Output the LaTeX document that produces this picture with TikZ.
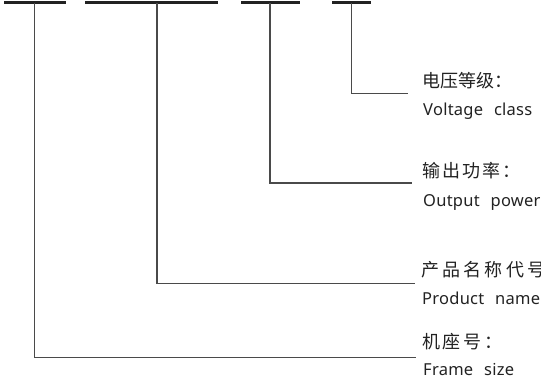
\documentclass[tikz,border=0pt]{standalone}
\usepackage{fontspec}
\newfontfamily\cjk{Noto Sans CJK SC}
\newfontfamily\lat[LetterSpace=1.5,WordSpace=2.4]{Noto Sans}
\definecolor{ink}{HTML}{222222}
\definecolor{lead}{HTML}{4A4A4A}
\begin{document}
\begin{tikzpicture}[x=1pt,y=-1pt,
  bar/.style={fill=ink,draw=none,minimum height=3pt,inner sep=0pt,anchor=north west},
  leader/.style={draw=lead,line width=1.3pt},
  zh/.style={anchor=west,inner sep=0pt,text=ink,font=\cjk\fontsize{18}{18}\selectfont},
  en/.style={anchor=base west,inner sep=0pt,text=ink,font=\lat\fontsize{16.5}{17}\selectfont}]
\useasboundingbox (0,0) rectangle (541,388);
% top bars
\node[bar,minimum width=62pt] (b1) at (4,1) {};
\node[bar,minimum width=133pt] (b2) at (85,1) {};
\node[bar,minimum width=59pt] (b3) at (241,1) {};
\node[bar,minimum width=39pt] (b4) at (332,1) {};
% leader start points on the bars
\coordinate (s1) at (34.5,3);
\coordinate (s2) at (157,3);
\coordinate (s3) at (270,3);
\coordinate (s4) at (351.5,3);
% leader ends
\coordinate (e1) at (416,357.5);
\coordinate (e2) at (415,283.5);
\coordinate (e3) at (412,183);
\coordinate (e4) at (408,93.5);
\draw[leader] (s1) |- (e1);
\draw[leader] (s2) |- (e2);
\draw[leader] (s3) |- (e3);
\draw[leader] (s4) |- (e4);
% labels
\node[zh] (z4) at (422,81) {电压等级：};
\node[en] (n4) at (423,115) {Voltage class};
\node[zh] (z3) at (422,170.5) {\addfontfeatures{LetterSpace=11}输出功率：};
\node[en] (n3) at (423,206) {Output power};
\node[zh] (z2) at (421,269.5) {\addfontfeatures{LetterSpace=18}产品名称代号};
\node[en] (n2) at (422,304) {Product name};
\node[zh] (z1) at (422,342) {\addfontfeatures{LetterSpace=15}机座号：};
\node[en] (n1) at (423,375) {Frame size};
\end{tikzpicture}
\end{document}
